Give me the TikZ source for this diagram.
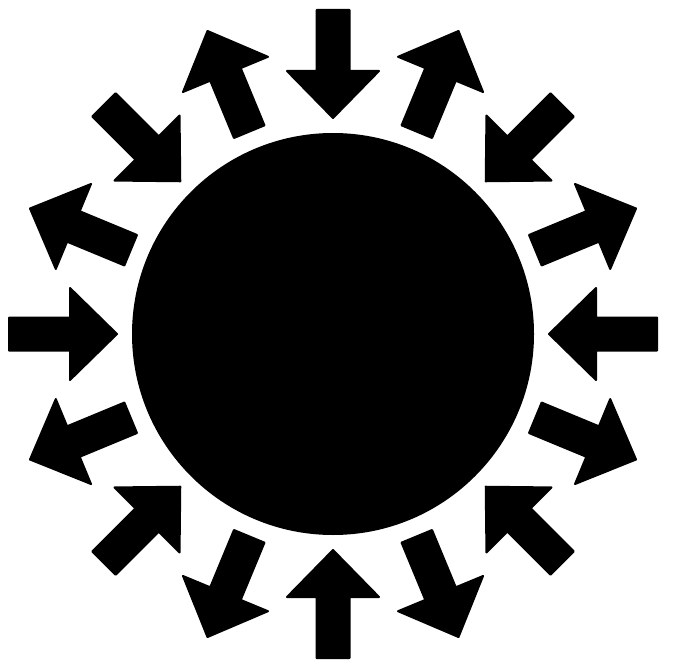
\documentclass[tikz,border=0pt]{standalone}
\begin{document}
\begin{tikzpicture}[x=0.75pt,y=-0.75pt]
\useasboundingbox (0,0) rectangle (673,666);
\tikzset{blk/.style={fill=black, draw=black, line width=1.5pt, line join=round}}
\fill[black] (333,334) circle (201);
% inward arrows
\foreach \a in {0,45,...,315} {
  \filldraw[blk, shift={(333,334)}, rotate=\a]
    (324,-16.5) -- (263,-16.5) -- (263,-46) -- (216,0) -- (263,46) -- (263,16.5) -- (324,16.5) -- cycle;
}
% outward arrows
\foreach \a in {22.5,67.5,...,337.5} {
  \filldraw[blk, shift={(333,334)}, rotate=\a]
    (219,-16.5) -- (281,-16.5) -- (281,-46) -- (328,0) -- (281,46) -- (281,16.5) -- (219,16.5) -- cycle;
}
\end{tikzpicture}
\end{document}
